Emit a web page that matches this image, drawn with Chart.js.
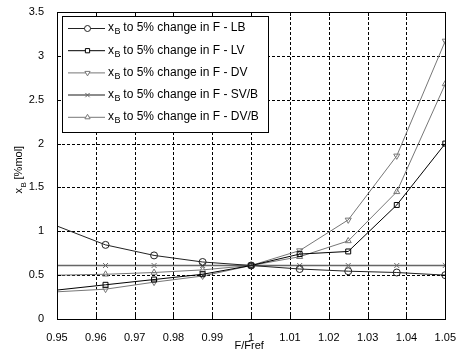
<!DOCTYPE html>
<html>
<head>
<meta charset="utf-8">
<script src="https://cdn.jsdelivr.net/npm/chart.js@4.4.1/dist/chart.umd.min.js"></script>
<style>
    body { margin: 0; background: #fff; }
    #wrap { width: 460px; height: 354px; }
</style>
</head>
<body>
<div id="wrap"><canvas id="chart1"></canvas></div>
<script>
const fRatio = [0.95, 0.9625, 0.975, 0.9875, 1, 1.0125, 1.025, 1.0375, 1.05];
const xbLB   = [1.06, 0.845, 0.725, 0.65, 0.61, 0.57, 0.545, 0.53, 0.50];
const xbLV   = [0.33, 0.39, 0.45, 0.51, 0.61, 0.74, 0.77, 1.30, 2.00];
const xbDV   = [0.31, 0.34, 0.42, 0.49, 0.61, 0.78, 1.13, 1.86, 3.17];
const xbSVB  = [0.61, 0.61, 0.61, 0.61, 0.61, 0.61, 0.61, 0.61, 0.61];
const xbDVB  = [0.50, 0.51, 0.53, 0.56, 0.61, 0.71, 0.89, 1.45, 2.68];
const seriesNames = ['LB', 'LV', 'DV', 'SV/B', 'DV/B'];
const xTicks = [0.95, 0.96, 0.97, 0.98, 0.99, 1, 1.01, 1.02, 1.03, 1.04, 1.05];
const yTicks = [0, 0.5, 1, 1.5, 2, 2.5, 3, 3.5];

const font = 'Liberation Sans, Arial, sans-serif';

function makeSet(name, values, color, style, rot, width) {
    return {
        label: name,
        data: fRatio.map((x, i) => ({x: x, y: values[i]})),
        borderColor: color,
        borderWidth: width || 1,
        pointStyle: style,
        rotation: rot || 0,
        pointRadius: fRatio.map((x, i) => i === 0 ? 0 : 3.5),
        pointBorderColor: color,
        pointBackgroundColor: 'rgba(255,255,255,0)',
        pointBorderWidth: 1,
        tension: 0,
        fill: false
    };
}

// dotted grid under the lines
const dottedGrid = {
    id: 'dottedGrid',
    beforeDatasetsDraw(chart) {
        const c = chart.ctx;
        const a = chart.chartArea;
        const xs = chart.scales.x, ys = chart.scales.y;
        c.save();
        c.strokeStyle = '#000';
        c.lineWidth = 1;
        c.setLineDash([3, 2]);
        c.beginPath();
        xTicks.slice(1, -1).forEach(t => {
            const px = Math.round(xs.getPixelForValue(t)) + 0.5;
            c.moveTo(px, a.top); c.lineTo(px, a.bottom);
        });
        yTicks.slice(1, -1).forEach(t => {
            const py = Math.round(ys.getPixelForValue(t)) + 0.5;
            c.moveTo(a.left, py); c.lineTo(a.right, py);
        });
        c.stroke();
        c.restore();
    }
};

// inward ticks, box, axis titles and the legend, MATLAB style
const matlabBits = {
    id: 'matlabBits',
    afterDatasetsDraw(chart) {
        const c = chart.ctx;
        const a = chart.chartArea;
        const xs = chart.scales.x, ys = chart.scales.y;
        c.save();
        c.strokeStyle = '#000';
        c.lineWidth = 1;
        c.beginPath();
        xTicks.forEach(t => {
            const px = Math.round(xs.getPixelForValue(t)) + 0.5;
            c.moveTo(px, a.bottom); c.lineTo(px, a.bottom - 4);
            c.moveTo(px, a.top); c.lineTo(px, a.top + 4);
        });
        yTicks.forEach(t => {
            const py = Math.round(ys.getPixelForValue(t)) + 0.5;
            c.moveTo(a.left, py); c.lineTo(a.left + 4, py);
            c.moveTo(a.right, py); c.lineTo(a.right - 4, py);
        });
        c.stroke();
        c.strokeRect(Math.round(a.left) + 0.5, Math.round(a.top) + 0.5,
            Math.round(a.right - a.left), Math.round(a.bottom - a.top));

        // legend
        const lx = 62, ly = 16, lw = 206, lh = 116;
        c.fillStyle = '#fff';
        c.fillRect(lx, ly, lw, lh);
        c.strokeStyle = '#000';
        c.strokeRect(lx + 0.5, ly + 0.5, lw, lh);
        chart.data.datasets.forEach((ds, i) => {
            const y = ly + 12 + i * 22.2;
            c.strokeStyle = ds.borderColor;
            c.lineWidth = ds.borderWidth;
            c.beginPath();
            c.moveTo(lx + 6, y + 0.5); c.lineTo(lx + 43, y + 0.5);
            c.stroke();
            c.lineWidth = 1;
            c.fillStyle = '#fff';
            Chart.helpers.drawPoint(c, {pointStyle: ds.pointStyle, rotation: ds.rotation,
                radius: 3, borderWidth: 1}, lx + 25.5, y + 0.5);
            c.fillStyle = '#000';
            c.textBaseline = 'middle';
            c.textAlign = 'left';
            c.font = '12px ' + font;
            c.fillText('x', lx + 46, y);
            c.font = '9px ' + font;
            c.fillText('B', lx + 52.5, y + 4);
            c.font = '12px ' + font;
            c.fillText(' to 5% change in F - ' + seriesNames[i], lx + 58, y);
        });

        // axis titles
        c.fillStyle = '#000';
        c.font = '11px ' + font;
        c.textAlign = 'center';
        c.textBaseline = 'alphabetic';
        c.fillText('F/Fref', (a.left + a.right) / 2 - 2, 349);
        c.translate(22, (a.top + a.bottom) / 2);
        c.rotate(-Math.PI / 2);
        c.textAlign = 'left';
        c.fillText('x', -28, 0);
        c.font = '8px ' + font;
        c.fillText('B', -22, 4);
        c.font = '11px ' + font;
        c.fillText(' [%mol]', -17, 0);
        c.restore();
    }
};

document.addEventListener('DOMContentLoaded', function() {
    const ctx1 = document.getElementById('chart1');
    new Chart(ctx1, {
        type: 'line',
        data: {
            datasets: [
                makeSet(seriesNames[0], xbLB, '#222', 'circle'),
                makeSet(seriesNames[1], xbLV, '#000', 'rect'),
                makeSet(seriesNames[2], xbDV, '#777', 'triangle', 180),
                makeSet(seriesNames[3], xbSVB, '#666', 'crossRot', 0, 1.5),
                makeSet(seriesNames[4], xbDVB, '#777', 'triangle')
            ]
        },
        plugins: [dottedGrid, matlabBits],
        options: {
            responsive: true,
            maintainAspectRatio: false,
            animation: false,
            layout: {padding: {top: 12, right: 10, left: 0, bottom: 0}},
            plugins: {legend: {display: false}, tooltip: {enabled: false}},
            scales: {
                x: {
                    type: 'linear',
                    min: 0.95, max: 1.05,
                    afterBuildTicks: s => { s.ticks = xTicks.map(v => ({value: v})); },
                    afterFit: s => { s.height = 35; },
                    grid: {display: false},
                    border: {display: false},
                    ticks: {
                        padding: 4, color: '#000', maxRotation: 0, autoSkip: false,
                        font: {family: font, size: 11},
                        callback: v => String(Number(v.toFixed(2)))
                    }
                },
                y: {
                    min: 0, max: 3.5,
                    afterBuildTicks: s => { s.ticks = yTicks.map(v => ({value: v})); },
                    afterFit: s => { s.width = 57; },
                    grid: {display: false},
                    border: {display: false},
                    ticks: {
                        padding: 5, color: '#000',
                        font: {family: font, size: 11},
                        callback: v => String(v)
                    }
                }
            }
        }
    });
});
</script>
</body>
</html>
